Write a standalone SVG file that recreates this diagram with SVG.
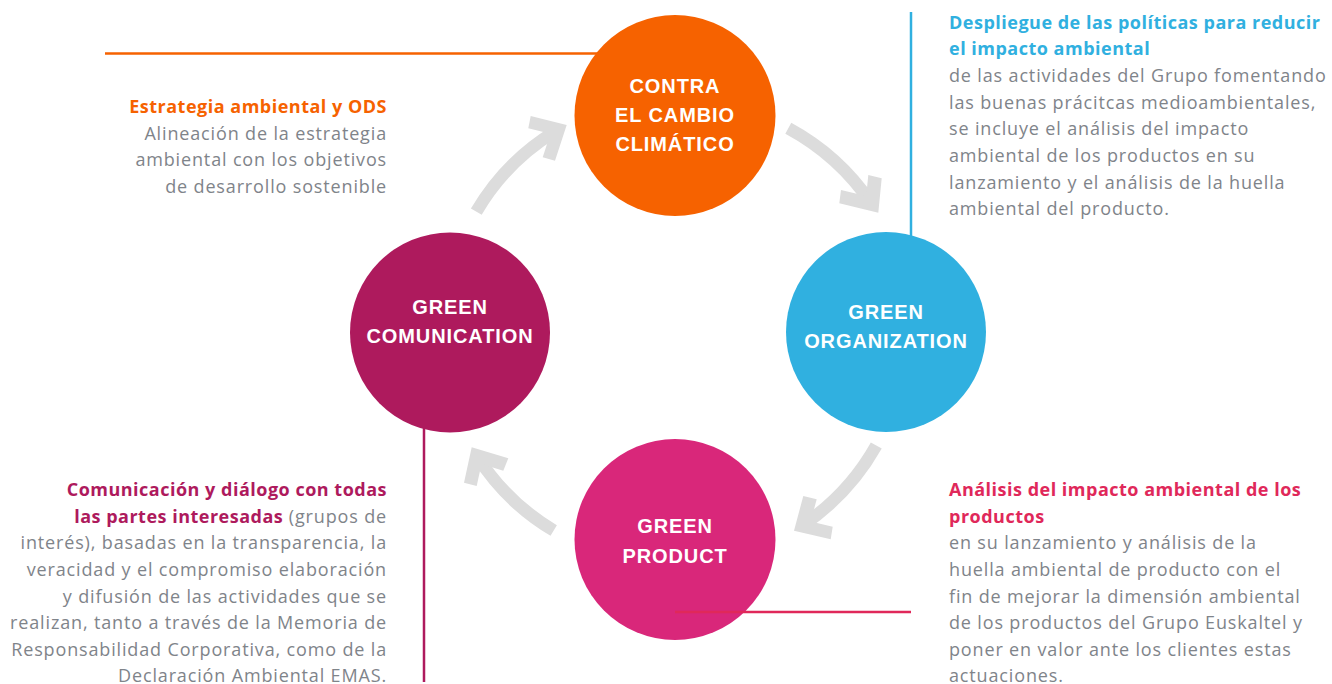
<svg xmlns="http://www.w3.org/2000/svg" width="1332" height="684" viewBox="0 0 1332 684">
<style>
.lbl{font-family:"Liberation Sans",Arial,sans-serif;font-weight:bold;font-size:20px;fill:#ffffff;text-anchor:middle;letter-spacing:0.9px}
.body{font-family:"Open Sans","Noto Sans",sans-serif;font-size:18px;fill:#7f848a;letter-spacing:0.85px}
.ttl{font-family:"Open Sans","Noto Sans",sans-serif;font-size:18px;font-weight:bold;letter-spacing:0.5px}
.shaft{fill:none;stroke:#dcdcdc;stroke-width:12.5;stroke-linecap:butt}
.head{fill:#dcdcdc}
.lead{fill:none;stroke-width:2.5}
</style>
<rect width="1332" height="684" fill="#ffffff"/>

<g id="annot-estrategia">
<line class="lead" x1="105" y1="53.5" x2="620" y2="53.5" stroke="#f66200"/>
<text class="ttl" x="387" y="113" text-anchor="end" fill="#f66200">Estrategia ambiental y ODS</text>
<text class="body" text-anchor="end"><tspan x="387" y="139.7">Alineación de la estrategia</tspan><tspan x="387" y="166.3">ambiental con los objetivos</tspan><tspan x="387" y="193">de desarrollo sostenible</tspan></text>
</g>

<g id="annot-despliegue">
<line class="lead" x1="911" y1="12" x2="911" y2="245" stroke="#30b0e0"/>
<text class="ttl" fill="#30b0e0"><tspan x="949" y="28.6">Despliegue de las políticas para reducir</tspan><tspan x="949" y="55.3">el impacto ambiental</tspan></text>
<text class="body"><tspan x="949" y="82">de las actividades del Grupo fomentando</tspan><tspan x="949" y="108.7">las buenas prácitcas medioambientales,</tspan><tspan x="949" y="135.4">se incluye el análisis del impacto</tspan><tspan x="949" y="162">ambiental de los productos en su</tspan><tspan x="949" y="188.7">lanzamiento y el análisis de la huella</tspan><tspan x="949" y="215.4">ambiental del producto.</tspan></text>
</g>

<g id="annot-comunicacion">
<line class="lead" x1="424" y1="420" x2="424" y2="682" stroke="#ae1a5d"/>
<text class="ttl" x="387" y="496" text-anchor="end" fill="#ae1a5d">Comunicación y diálogo con todas</text>
<text class="body" x="387" y="522.7" text-anchor="end"><tspan class="ttl" fill="#ae1a5d">las partes interesadas</tspan> (grupos de</text>
<text class="body" text-anchor="end"><tspan x="387" y="549.4">interés), basadas en la transparencia, la</tspan><tspan x="387" y="576">veracidad y el compromiso elaboración</tspan><tspan x="387" y="602.7">y difusión de las actividades que se</tspan><tspan x="387" y="629.4">realizan, tanto a través de la Memoria de</tspan><tspan x="387" y="656">Responsabilidad Corporativa, como de la</tspan><tspan x="387" y="681.5">Declaración Ambiental EMAS.</tspan></text>
</g>

<g id="connectors">
<path class="shaft" d="M476.3,211.7 A230,230 0 0 1 555,131.5"/>
<polygon class="head" points="530.7,116 566.7,125 555,160.7 542.7,157.3 550.4,133.8 528.3,128.3"/>
<path class="shaft" d="M788.3,128.3 A235,235 0 0 1 871,203"/>
<polygon class="head" points="841,190 866.2,196.1 868.3,175 881.7,178.3 878.3,212.7 839.3,203.3"/>
<path class="shaft" d="M876.3,445.5 A235,235 0 0 1 803,525"/>
<polygon class="head" points="803.3,496 794,530.7 830.7,539.3 832.7,526.7 810.7,521.5 816.7,499.3"/>
<path class="shaft" d="M553.7,530.5 A230,230 0 0 1 477,456"/>
<polygon class="head" points="471.7,447.3 508.3,458.3 503.3,470.7 481.5,464.1 476.7,486 464,482.7"/>
</g>

<g id="node-contra">
<circle cx="675" cy="115.5" r="100.5" fill="#f66200"/>
<text class="lbl"><tspan x="675" y="93">CONTRA</tspan><tspan x="675" y="122">EL CAMBIO</tspan><tspan x="675" y="151">CLIMÁTICO</tspan></text>
</g>

<g id="node-organization">
<circle cx="886" cy="332" r="100" fill="#30b0e0"/>
<text class="lbl"><tspan x="886" y="319">GREEN</tspan><tspan x="886" y="348">ORGANIZATION</tspan></text>
</g>

<g id="node-product">
<circle cx="675" cy="539.5" r="100.5" fill="#d9277a"/>
<text class="lbl"><tspan x="675" y="533">GREEN</tspan><tspan x="675" y="562.5">PRODUCT</tspan></text>
</g>

<g id="node-comunication">
<circle cx="450" cy="332.5" r="100" fill="#ae1a5d"/>
<text class="lbl"><tspan x="450" y="314">GREEN</tspan><tspan x="450" y="343">COMUNICATION</tspan></text>
</g>

<g id="annot-analisis">
<line class="lead" x1="675" y1="612" x2="911" y2="612" stroke="#e0285a"/>
<text class="ttl" fill="#e0285a"><tspan x="949" y="496">Análisis del impacto ambiental de los</tspan><tspan x="949" y="522.7">productos</tspan></text>
<text class="body"><tspan x="949" y="549.4">en su lanzamiento y análisis de la</tspan><tspan x="949" y="576">huella ambiental de producto con el</tspan><tspan x="949" y="602.7">fin de mejorar la dimensión ambiental</tspan><tspan x="949" y="629.4">de los productos del Grupo Euskaltel y</tspan><tspan x="949" y="656">poner en valor ante los clientes estas</tspan><tspan x="949" y="681.5">actuaciones.</tspan></text>
</g>
</svg>
